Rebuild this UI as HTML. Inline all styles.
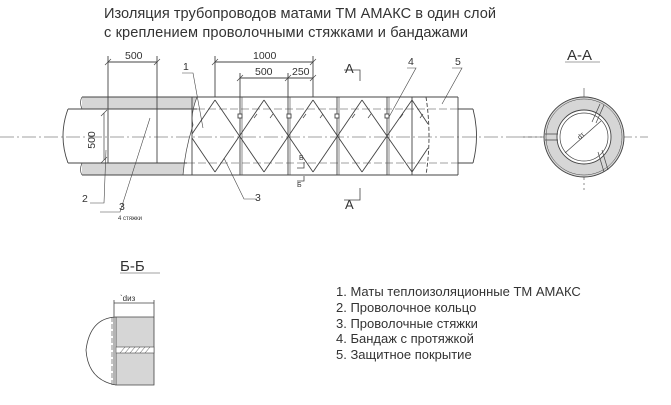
<!DOCTYPE html>
<html><head><meta charset="utf-8"><style>
html,body{margin:0;padding:0;background:#fff}
svg{display:block}
text{font-family:"Liberation Sans",sans-serif;fill:#333}
</style></head><body>
<svg width="671" height="405" viewBox="0 0 671 405" xmlns="http://www.w3.org/2000/svg">
<text x="104" y="18" font-size="14.6" textLength="392">Изоляция трубопроводов матами ТМ АМАКС в один слой</text>
<text x="104" y="37" font-size="14.6" textLength="364">с креплением проволочными стяжками и бандажами</text>

<g stroke="#444" fill="none" stroke-width="0.9">
<path d="M82,97 L197,97 Q190,115 193,125 Q185,150 183,175 L82,175 Z" fill="#d6d6d6" stroke="none"/>
<rect x="82" y="109" width="120" height="54" fill="#fff" stroke="none"/>
<path d="M82,97 H458 M82,175 H458"/>
<path d="M68,109 H197 M68,163 H187 M458,109 H473 M458,163 H473"/>
<path d="M197,109 H458 M187,163 H458" stroke-dasharray="8,3" stroke-width="0.5"/>
<path d="M68,109 Q58,136 68,163"/>
<path d="M473,109 Q480,136 473,163" />
<path d="M197,97 Q190,115 193,125 Q185,150 183,175" stroke-width="0.7"/>
<path d="M82,97 Q79,102 82,109 M82,163 Q79,170 82,175" stroke-width="0.7"/>
<path d="M108,109 V163 M157,109 V163"/>
<path d="M192,97 V175 M240,97 V175 M288,97 V175 M337,97 V175 M387,97 V175 M412,97 V175 M458,97 V175"/>
<path d="M242,97 V175 M290,97 V175 M339,97 V175 M389,97 V175" stroke-width="0.6"/>
<path d="M426,97 Q432,136 426,175" stroke-dasharray="4,2"/>
<!-- diagonals: full-height X's -->
<path d="M215,100 L264,172 M264,100 L215,172 M264,100 L313,172 M313,100 L264,172 M313,100 L362,172 M362,100 L313,172 M362,100 L412,172 M412,100 L362,172 M215,100 L192,134 M215,172 L192,138 M412,100 L428,124 M412,172 L428,148"/>
<rect x="238" y="114" width="4" height="4" fill="#fff"/><rect x="287" y="114" width="4" height="4" fill="#fff"/><rect x="335" y="114" width="4" height="4" fill="#fff"/><rect x="385" y="114" width="4" height="4" fill="#fff"/>
<path d="M254,118 l3,-4 M270,118 l3,-4 M303,118 l3,-4 M320,118 l3,-4 M352,118 l3,-4 M368,118 l3,-4 M400,118 l3,-4 M420,118 l3,-4" stroke-width="0.7"/>
<path d="M0,137 H560" stroke-dasharray="14,3,2,3" stroke-width="0.6"/>
<path d="M520,137 H648 M584,88 V190" stroke-dasharray="12,3,2,3" stroke-width="0.6"/>
<path d="M108,62 H157 M108,56 V109 M157,56 V109 M215,62 H313 M215,56 V97 M313,56 V97 M240,78 H313 M240,73 V97 M288,73 V97"/>
<path d="M105,65 L111,59 M154,65 L160,59 M212,65 L218,59 M310,65 L316,59 M237,81 L243,75 M285,81 L291,75 M310,81 L316,75" stroke-width="0.7"/>
<path d="M104,113 V160 M101,116 L107,110 M101,163 L107,157" stroke-width="0.7"/>
<path d="M182,73 H193 L203,128 M407,68 H416 L389,117 M452,68 H462 L442,104 M90,203 H104 L106,150 M100,212 H120 L150,118 M257,199 H244 L224,158" stroke-width="0.6"/>
<path d="M344,70 H360 V81 M344,200 H360 V188 M297,168 H304 V162 M297,181 H304 V176" stroke-width="0.8"/>
<circle cx="584" cy="137" r="40" fill="#d6d6d6"/>
<circle cx="584" cy="137" r="38" stroke-width="0.5"/>
<circle cx="584" cy="137" r="27" fill="#fff"/>
<circle cx="584" cy="137" r="24" stroke-width="0.7"/>
<path d="M600,104 L592,122 M604,105 L596,123 M598,152 L604,172 M602,150 L608,170 M545,134 H558 M545,140 H558" stroke-width="0.7"/>
<path d="M565,153 L601,121" stroke-width="0.7"/>
<path d="M565,62 H600" stroke-width="0.6"/>
<path d="M120,273 H160" stroke-width="0.6"/>
<rect x="116" y="317" width="38" height="68" fill="#d6d6d6" stroke="none"/>
<path d="M116,317 H154 V385 H116 Z M114,300 V385 M154,300 V385 M114,303 H154" stroke-width="0.8"/>
<path d="M116,317 Q90,318 86,350 Q88,380 116,385" stroke-width="0.8"/>
<path d="M112,317 V385" stroke-dasharray="5,2" stroke-width="0.6"/>
<rect x="116" y="347" width="38" height="6" fill="#fff" stroke-width="0.6"/>
<path d="M120,353 l5,-6 M125,353 l5,-6 M130,353 l5,-6 M135,353 l5,-6 M140,353 l5,-6 M145,353 l5,-6" stroke-width="0.5"/>
</g>
<g font-size="10.5">
<text x="125" y="59">500</text><text x="253" y="59">1000</text>
<text x="255" y="75">500</text><text x="292" y="75">250</text>
<text x="95" y="140" transform="rotate(-90 95 140)" text-anchor="middle">500</text>
<text x="183" y="70">1</text><text x="408" y="65">4</text><text x="455" y="65">5</text>
<text x="82" y="202">2</text><text x="119" y="210">3</text><text x="255" y="201">3</text>
</g>
<text x="118" y="220" font-size="6">4 стяжки</text>
<text x="299" y="160" font-size="7">Б</text><text x="297" y="187" font-size="7">Б</text>
<text x="345" y="73" font-size="13">А</text><text x="345" y="209" font-size="13">А</text>
<text x="567" y="60" font-size="15">А-А</text>
<text x="120" y="271" font-size="15">Б-Б</text>
<text x="120" y="301" font-size="8">`dиз</text>
<text x="580" y="140" font-size="7" transform="rotate(-45 580 140)">dт</text>
<g font-size="13">
<text x="336" y="296">1. Маты теплоизоляционные ТМ АМАКС</text>
<text x="336" y="312">2. Проволочное кольцо</text>
<text x="336" y="328">3. Проволочные стяжки</text>
<text x="336" y="343">4. Бандаж с протяжкой</text>
<text x="336" y="359">5. Защитное покрытие</text>
</g>
</svg>
</body></html>
